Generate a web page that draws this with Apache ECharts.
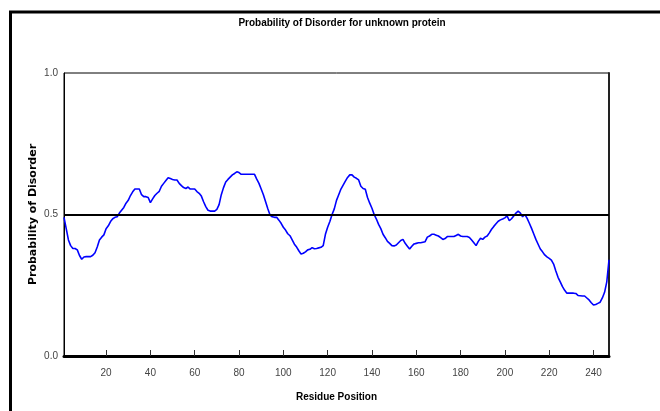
<!DOCTYPE html>
<html>
<head>
<meta charset="utf-8">
<script src="https://cdn.jsdelivr.net/npm/echarts@6/dist/echarts.min.js"></script>
<style>
html,body{margin:0;padding:0;background:#fff;}
#chart{width:660px;height:411px;}
</style>
</head>
<body>
<div id="chart"></div>
<script>
const chartTitle = 'Probability of Disorder for unknown protein';
const xTitle = 'Residue Position';
const yTitle = 'Probability of Disorder';
const xTicks = [20, 40, 60, 80, 100, 120, 140, 160, 180, 200, 220, 240];
const yTicks = [0.0, 0.5, 1.0];
const threshold = 0.5;
// disorder probability for residues 1..247
const disorder = [
  0.49, 0.45, 0.41, 0.39, 0.38, 0.38, 0.375, 0.355, 0.342, 0.35,
  0.351, 0.351, 0.351, 0.356, 0.365, 0.385, 0.41, 0.42, 0.428, 0.45,
  0.46, 0.475, 0.485, 0.49, 0.492, 0.505, 0.515, 0.525, 0.54, 0.55,
  0.567, 0.58, 0.59, 0.59, 0.59, 0.57, 0.563, 0.563, 0.56, 0.542,
  0.555, 0.567, 0.575, 0.582, 0.6, 0.61, 0.62, 0.63, 0.627, 0.624,
  0.622, 0.622, 0.61, 0.602, 0.595, 0.592, 0.597, 0.59, 0.59, 0.59,
  0.581, 0.575, 0.565, 0.545, 0.528, 0.515, 0.512, 0.512, 0.512, 0.518,
  0.535, 0.57, 0.595, 0.615, 0.624, 0.632, 0.64, 0.645, 0.651, 0.648,
  0.642, 0.642, 0.642, 0.642, 0.642, 0.642, 0.642, 0.625, 0.61, 0.59,
  0.57, 0.545, 0.52, 0.498, 0.492, 0.49, 0.49, 0.48, 0.469, 0.455,
  0.445, 0.432, 0.425, 0.41, 0.395, 0.385, 0.372, 0.36, 0.363, 0.368,
  0.375, 0.377, 0.383, 0.379, 0.38, 0.382, 0.384, 0.39, 0.43, 0.455,
  0.475, 0.5, 0.52, 0.55, 0.57, 0.59, 0.604, 0.618, 0.631, 0.64,
  0.64, 0.632, 0.628, 0.622, 0.6, 0.592, 0.589, 0.56, 0.54, 0.522,
  0.5, 0.484, 0.465, 0.45, 0.43, 0.418, 0.405, 0.398, 0.39, 0.389,
  0.392, 0.4, 0.408, 0.412, 0.398, 0.388, 0.378, 0.388, 0.396, 0.398,
  0.4, 0.4, 0.402, 0.404, 0.42, 0.424, 0.43, 0.43, 0.427, 0.424,
  0.418, 0.412, 0.415, 0.422, 0.422, 0.422, 0.422, 0.426, 0.43, 0.424,
  0.422, 0.422, 0.422, 0.419, 0.41, 0.4, 0.39, 0.405, 0.416, 0.412,
  0.42, 0.424, 0.435, 0.448, 0.458, 0.467, 0.476, 0.481, 0.484, 0.488,
  0.495, 0.478, 0.485, 0.495, 0.505, 0.512, 0.505, 0.492, 0.5, 0.487,
  0.47, 0.452, 0.432, 0.412, 0.395, 0.378, 0.368, 0.357, 0.35, 0.345,
  0.339, 0.325, 0.3, 0.278, 0.262, 0.245, 0.232, 0.222, 0.222, 0.222,
  0.222, 0.221, 0.214, 0.213, 0.212, 0.212, 0.205, 0.198, 0.188, 0.18,
  0.182, 0.186, 0.19, 0.205, 0.225, 0.262, 0.34
];
const points = disorder.map((v, i) => [i + 1, v]);

const sans = "'Liberation Sans', Arial, sans-serif";
const chart = echarts.init(document.getElementById('chart'), null, {renderer: 'canvas'});
chart.setOption({
  animation: false,
  backgroundColor: '#fff',
  graphic: [{
    type: 'rect',
    shape: {x: 10.5, y: 12, width: 700, height: 500},
    style: {fill: 'none', stroke: '#000', lineWidth: 3},
    silent: true
  }],
  title: {
    text: chartTitle,
    left: 337,
    top: 13,
    textAlign: 'center',
    textStyle: {fontFamily: sans, fontWeight: 'bold', fontSize: 10, color: '#000'}
  },
  grid: {
    left: 64, top: 73, right: 51, bottom: 55,
    show: true, borderColor: '#000', borderWidth: 1, backgroundColor: 'transparent'
  },
  xAxis: {
    type: 'value',
    min: 1, max: 247,
    name: xTitle,
    nameLocation: 'middle',
    nameGap: 36,
    nameMoveOverlap: false,
    nameTextStyle: {fontFamily: sans, fontWeight: 'bold', fontSize: 10, color: '#000'},
    splitLine: {show: false},
    axisLine: {show: true, lineStyle: {color: '#000', width: 3}},
    axisTick: {show: true, inside: true, length: 6, customValues: xTicks, lineStyle: {color: '#333', width: 1}},
    axisLabel: {customValues: xTicks, margin: 12, fontFamily: sans, fontSize: 10, color: '#444'}
  },
  yAxis: [{
    type: 'value',
    min: 0, max: 1, interval: 0.5,
    name: yTitle,
    nameLocation: 'middle',
    nameGap: 25,
    nameMoveOverlap: false,
    nameTextStyle: {fontFamily: "'DejaVu Sans', sans-serif", fontWeight: 'bold', fontSize: 11, color: '#000'},
    splitLine: {show: false},
    axisLine: {show: true, lineStyle: {color: '#000', width: 1}},
    axisTick: {show: false},
    axisLabel: {margin: 6, fontFamily: sans, fontSize: 10, color: '#444',
      formatter: v => yTicks.includes(v) ? v.toFixed(1) : ''}
  }, {
    type: 'value',
    position: 'right',
    min: 0, max: 1,
    splitLine: {show: false},
    axisLine: {show: true, lineStyle: {color: '#222', width: 2}},
    axisTick: {show: false},
    axisLabel: {show: false}
  }],
  series: [{
    type: 'line',
    data: points,
    showSymbol: false,
    symbol: 'none',
    lineStyle: {color: '#0000ff', width: 1.6},
    markLine: {
      silent: true,
      symbol: 'none',
      label: {show: false},
      lineStyle: {color: '#000', width: 2, type: 'solid'},
      data: [{yAxis: threshold}]
    }
  }]
});
</script>
</body>
</html>
